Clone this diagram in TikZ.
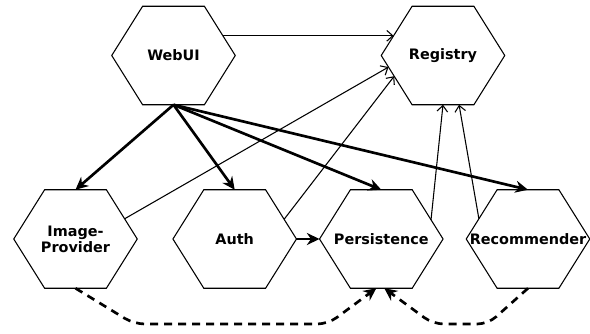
\documentclass[tikz,border=0pt]{standalone}
\usepackage{fontspec}
\setmainfont{DejaVu Sans}
\usetikzlibrary{calc,arrows.meta}
\begin{document}
\begin{tikzpicture}[x=0.75pt,y=-0.75pt,
  hexnode/.style={minimum width=92.25pt,minimum height=73.5pt,inner sep=0pt,
    font=\fontsize{10.8}{12.2}\selectfont\bfseries,align=center},
  hexline/.style={draw=black,line width=0.8pt,line join=miter},
  thin/.style={draw=black,line width=0.8pt,-{Straight Barb[length=4.5pt,width=8pt,line width=0.8pt]}},
  thickarr/.style={draw=black,line width=2pt,-{Stealth[length=9.5pt,width=9pt]}},
  dasharr/.style={draw=black,line width=2pt,dash pattern=on 6pt off 4.5pt,rounded corners=8pt,
    -{Stealth[length=9.5pt,width=9pt]}}]
\useasboundingbox (0,0) rectangle (590,333);
\node[hexnode] (web)  at (173.5,55.5) {WebUI};
\node[hexnode] (reg)  at (443,55.5)   {Registry};
\node[hexnode] (img)  at (75.5,239)   {Image-\\Provider};
\node[hexnode] (auth) at (234.7,239)  {Auth};
\node[hexnode] (pers) at (381.3,239)  {Persistence};
\node[hexnode] (rec)  at (528,239)    {Recommender};
\foreach \n in {web,reg,img,auth,pers,rec}{
  \coordinate (\n-nw) at ($(\n.north west)!0.25!(\n.north east)$);
  \coordinate (\n-ne) at ($(\n.north west)!0.75!(\n.north east)$);
  \coordinate (\n-sw) at ($(\n.south west)!0.25!(\n.south east)$);
  \coordinate (\n-se) at ($(\n.south west)!0.75!(\n.south east)$);
  \draw[hexline] (\n.west) -- (\n-nw) -- (\n-ne) -- (\n.east) -- (\n-se) -- (\n-sw) -- cycle;
}
% thin arrows to registry
\draw[thin] ($(web.east)!0.4!(web-ne)$) -- ($(reg.west)!0.4!(reg-nw)$);
\draw[thin] ($(img.east)!0.41!(img-ne)$) -- ($(reg.west)!0.235!(reg-sw)$);
\draw[thin] ($(auth.east)!0.4!(auth-ne)$) -- ($(reg.west)!0.42!(reg-sw)$);
\draw[thin] ($(pers.east)!0.39!(pers-ne)$) -- (reg.south);
\draw[thin] ($(rec.west)!0.41!(rec-nw)$) -- ($(reg.south)!0.52!(reg-se)$);
% thick arrows from WebUI
\draw[thickarr] (web.south) -- (img.north);
\draw[thickarr] (web.south) -- (auth.north);
\draw[thickarr] (web.south) -- (pers.north);
\draw[thickarr] (web.south) -- (rec.north);
\draw[thickarr] (auth.east) -- (pers.west);
% dashed arrows to persistence
\draw[dasharr] (img.south) -- (134,324) -- (328,324) -- ($(pers.south)+(-5,0)$);
\draw[dasharr] (rec.south) -- (488,324) -- (433,324) -- ($(pers.south)+(3,0)$);
\end{tikzpicture}
\end{document}
